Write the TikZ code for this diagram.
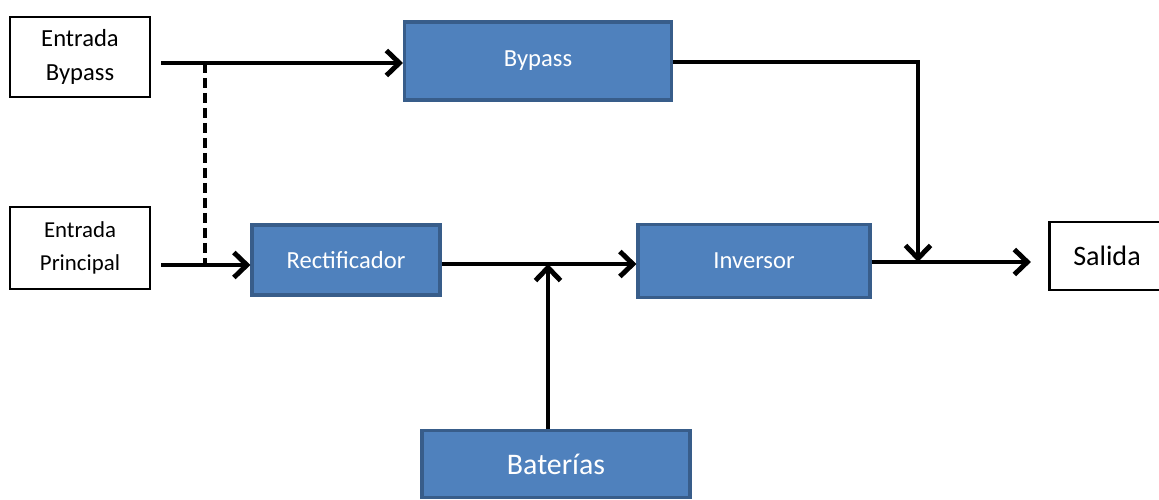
\documentclass[tikz,border=0pt]{standalone}
\usepackage{fontspec}
\setmainfont{Carlito}
\usepackage{tikz}
\usetikzlibrary{arrows.meta, positioning}
\definecolor{officeblue}{HTML}{4F81BD}
\definecolor{officeedge}{HTML}{385D8A}
\tikzstyle{inbox} = [rectangle, draw=black, line width=1.2pt, fill=white, text=black, align=center, inner sep=0pt]
\tikzstyle{block} = [rectangle, draw=officeedge, line width=1.8pt, fill=officeblue, text=white, align=center, inner sep=0pt]
\tikzstyle{arrow} = [line width=2.8pt, -{Straight Barb[length=2.6mm, width=5mm]}, color=black]
\tikzstyle{wire} = [line width=2.8pt, color=black]

\begin{document}
\begin{tikzpicture}[x=0.02cm, y=-0.02cm]
    \useasboundingbox (0,0) rectangle (1159,500);
    % Inputs
    \node[inbox, minimum width=2.8cm, minimum height=1.6cm, font=\fontsize{14}{19}\selectfont] (entbypass) at (80,57) {Entrada\\Bypass};
    \node[inbox, minimum width=2.8cm, minimum height=1.64cm, font=\fontsize{13}{19}\selectfont, below=2.16cm of entbypass] (entprincipal) {Entrada\\Principal};

    % Blocks
    \node[block, minimum width=5.34cm, minimum height=1.56cm, font=\fontsize{14}{17}\selectfont] (bypass) at (538,61) {Bypass};
    \node[block, minimum width=3.76cm, minimum height=1.4cm, font=\fontsize{14}{17}\selectfont] (rectif) at (346,260) {Rectificador};
    \node[block, minimum width=4.64cm, minimum height=1.46cm, font=\fontsize{14}{17}\selectfont] (inversor) at (754,261) {Inversor};
    \node[block, minimum width=5.36cm, minimum height=1.34cm, font=\fontsize{17}{20}\selectfont] (baterias) at (556,464) {Baterías};

    % Output
    \node[inbox, minimum width=2.3cm, minimum height=1.36cm, font=\fontsize{16}{19}\selectfont] (salida) at (1107,256) {Salida};

    % Junctions
    \coordinate (jbyp) at (205,63);
    \coordinate (jpri) at (205,265);
    \coordinate (jbat) at (548,264);
    \coordinate (corner) at (918,62);
    \coordinate (jout) at (918,262);

    % Arrows
    \draw[arrow] (entbypass.east |- jbyp) ++(10,0) -- (bypass.west |- jbyp);
    \draw[wire, dash pattern=on 0.2cm off 0.1cm] (jbyp) -- (jpri);
    \draw[arrow] (entprincipal.east |- jpri) ++(10,0) -- (rectif.west |- jpri);
    \draw[arrow] (rectif.east |- jbat) -- (inversor.west |- jbat);
    \draw[arrow] (baterias.north -| jbat) -- (jbat);
    \draw[arrow] (bypass.east |- corner) -- (corner) -- (jout);
    \draw[arrow] (inversor.east |- jout) -- ([xshift=-10]salida.west |- jout);
\end{tikzpicture}
\end{document}
